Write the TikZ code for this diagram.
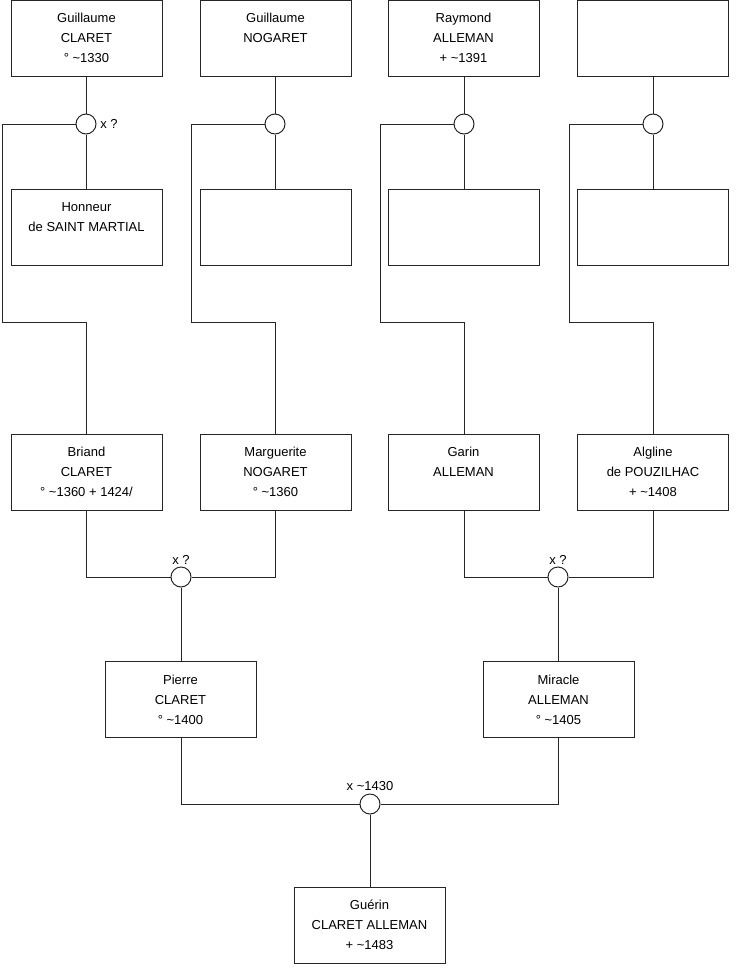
\documentclass[tikz,border=0pt]{standalone}
\usepackage{fontspec}
\setmainfont{Liberation Sans}
\begin{document}
\begin{tikzpicture}[x=0.75pt,y=-0.75pt,
  person/.style={draw=black!85, line width=0.75pt, minimum width=113.25pt, minimum height=57pt, inner sep=0pt, align=center, font=\fontsize{9.75}{15}\selectfont, fill=white},
  union/.style={circle, draw=black!85, line width=0.75pt, minimum size=15pt, inner sep=0pt, fill=white},
  link/.style={draw=black!85, line width=0.75pt},
  lbl/.style={font=\fontsize{9.75}{12}\selectfont, inner sep=0pt}]
\useasboundingbox (0,0) rectangle (740,975);
% row 1
\node[person] (gc) at (86.5,38) {Guillaume\\CLARET\\° \textasciitilde1330};
\node[person] (gn) at (275.5,38) {Guillaume\\NOGARET\\\mbox{}};
\node[person] (ra) at (463.5,38) {Raymond\\ALLEMAN\\+ \textasciitilde1391};
\node[person] (u4) at (653,38) {};
% unions row 1
\node[union] (c1) at (86,124) {};
\node[union] (c2) at (275,124) {};
\node[union] (c3) at (464,124) {};
\node[union] (c4) at (653,124) {};
\node[lbl, anchor=west] (l1) at (100,124) {x ?};
% row 2
\node[person] (hs) at (86.5,227) {Honneur\\de SAINT MARTIAL\\\mbox{}};
\node[person] (e2) at (275.5,227) {};
\node[person] (e3) at (463.5,227) {};
\node[person] (e4) at (653,227) {};
% row 3
\node[person] (bc) at (86.5,472) {Briand\\CLARET\\° \textasciitilde1360 + 1424/};
\node[person] (mn) at (275.5,472) {Marguerite\\NOGARET\\° \textasciitilde1360};
\node[person] (ga) at (463.5,472) {Garin\\ALLEMAN\\\mbox{}};
\node[person] (ap) at (653,472) {Algline\\de POUZILHAC\\+ \textasciitilde1408};
% unions row 3
\node[union] (d1) at (181,577) {};
\node[union] (d2) at (558,577) {};
\node[lbl] (l2) at (181,560) {x ?};
\node[lbl] (l3) at (558,560) {x ?};
% row 4
\node[person] (pc) at (180.5,699.5) {Pierre\\CLARET\\° \textasciitilde1400};
\node[person] (ma) at (558.5,699.5) {Miracle\\ALLEMAN\\° \textasciitilde1405};
% union row 4
\node[union] (f1) at (370,804) {};
\node[lbl] (l4) at (370,786) {x \textasciitilde1430};
% row 5
\node[person] (gu) at (369.5,925) {Guérin\\CLARET ALLEMAN\\+ \textasciitilde1483};
% coordinates
\coordinate (k1a) at (2,124); \coordinate (k1b) at (2,322); \coordinate (k1c) at (86,322);
\coordinate (k2a) at (191,124); \coordinate (k2b) at (191,322); \coordinate (k2c) at (275,322);
\coordinate (k3a) at (380,124); \coordinate (k3b) at (380,322); \coordinate (k3c) at (464,322);
\coordinate (k4a) at (569,124); \coordinate (k4b) at (569,322); \coordinate (k4c) at (653,322);
% connectors row 1
\begin{scope}[on background layer/.style={}]
\draw[link] (gc.south -| c1) -- (c1.north);
\draw[link] (c1.south) -- (hs.north -| c1);
\draw[link] (c1.west) -- (k1a) -- (k1b) -- (k1c) -- (bc.north -| k1c);
\draw[link] (gn.south -| c2) -- (c2.north);
\draw[link] (c2.south) -- (e2.north -| c2);
\draw[link] (c2.west) -- (k2a) -- (k2b) -- (k2c) -- (mn.north -| k2c);
\draw[link] (ra.south -| c3) -- (c3.north);
\draw[link] (c3.south) -- (e3.north -| c3);
\draw[link] (c3.west) -- (k3a) -- (k3b) -- (k3c) -- (ga.north -| k3c);
\draw[link] (u4.south -| c4) -- (c4.north);
\draw[link] (c4.south) -- (e4.north -| c4);
\draw[link] (c4.west) -- (k4a) -- (k4b) -- (k4c) -- (ap.north -| k4c);
\end{scope}
% connectors row 3
\draw[link] (bc.south -| k1c) |- (d1.west);
\draw[link] (mn.south -| k2c) |- (d1.east);
\draw[link] (d1.south) -- (pc.north -| d1);
\draw[link] (ga.south -| k3c) |- (d2.west);
\draw[link] (ap.south -| k4c) |- (d2.east);
\draw[link] (d2.south) -- (ma.north -| d2);
% connectors row 4
\draw[link] (pc.south -| d1) |- (f1.west);
\draw[link] (ma.south -| d2) |- (f1.east);
\draw[link] (f1.south) -- (gu.north -| f1);
\end{tikzpicture}
\end{document}
